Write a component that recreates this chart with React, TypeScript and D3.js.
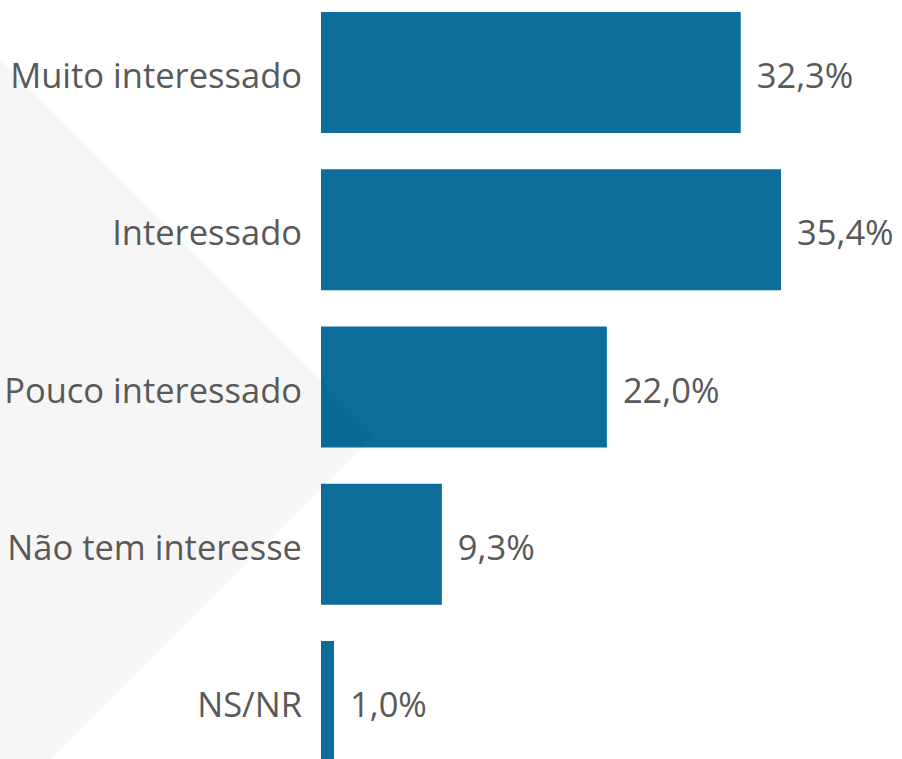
import React from "react";
import * as d3 from "d3";

const categories: string[] = [
  "Muito interessado",
  "Interessado",
  "Pouco interessado",
  "Não tem interesse",
  "NS/NR",
];
const values: number[] = [32.3, 35.4, 22.0, 9.3, 1.0];
const valueLabels: string[] = ["32,3%", "35,4%", "22,0%", "9,3%", "1,0%"];

const W = 902;
const H = 759;

export default function App() {
  const x = d3.scaleLinear().domain([0, 35.4]).range([321, 781]);
  const y = d3
    .scaleBand<string>()
    .domain(categories)
    .range([-6.1, 780.1])
    .paddingInner(0.2305)
    .paddingOuter(0.11525);
  const bg = d3.line()([
    [0, 60],
    [375, 435],
    [51, 759],
    [0, 759],
  ]) as string;
  const font = "'Open Sans', 'Noto Sans', sans-serif";
  return (
    <svg
      width={W}
      height={H}
      style={{ position: "absolute", left: 0, top: 0, display: "block", background: "#fff" }}
    >
      {categories.map((c, i) => (
        <rect
          key={c}
          x={x(0)}
          y={y(c)}
          width={x(values[i]) - x(0)}
          height={y.bandwidth()}
          fill="#0c6d9b"
        />
      ))}
      <path d={bg + "Z"} fill="#000" fillOpacity={0.035} />
      {categories.map((c, i) => {
        const cy = (y(c) as number) + y.bandwidth() / 2 + 15.5;
        return (
          <g key={"t" + c} fontFamily={font} fontSize={34.5} fill="#595959">
            <text x={302} y={cy} textAnchor="end">
              {c}
            </text>
            <text x={x(values[i]) + 16} y={cy}>
              {valueLabels[i]}
            </text>
          </g>
        );
      })}
    </svg>
  );
}
